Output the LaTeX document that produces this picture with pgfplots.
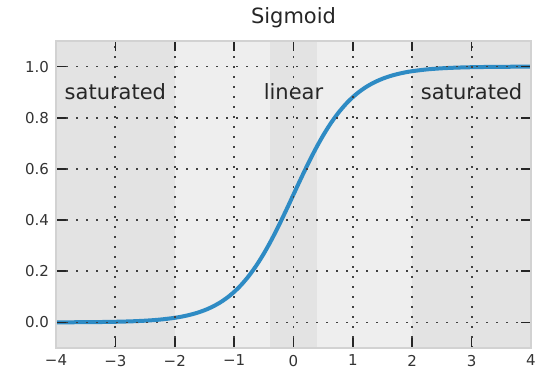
\documentclass[border=0pt]{standalone}
\usepackage{pgfplots}
\pgfplotsset{compat=1.18}
\usepackage{fontspec}
\setmainfont{DejaVu Sans}
\definecolor{satgray}{RGB}{227,227,227}
\definecolor{midgray}{RGB}{238,238,238}
\definecolor{curveblue}{RGB}{46,139,196}
\definecolor{framegray}{RGB}{210,210,210}
\begin{document}
\begin{tikzpicture}
\begin{axis}[
  scale only axis,
  width=237.5pt, height=153.5pt,
  xmin=-4, xmax=4, ymin=-0.1, ymax=1.1,
  xtick={-4,-3,-2,-1,0,1,2,3,4},
  xticklabels={−4,−3,−2,−1,0,1,2,3,4},
  ytick={0,0.2,0.4,0.6,0.8,1.0},
  yticklabels={0.0,0.2,0.4,0.6,0.8,1.0},
  tick label style={font=\fontsize{7.5}{9}\selectfont, text=black!80},
  title={Sigmoid},
  title style={font=\fontsize{10.5}{12}\selectfont, text=black!85, yshift=-3pt},
  axis background/.style={fill=midgray},
  axis line style={framegray, line width=0.8pt},
  axis on top,
  grid=major,
  grid style={black!75, line width=0.9pt, dash pattern=on 0.9pt off 4.1pt},
  tick align=inside,
  major tick length=5pt,
  tick style={black!85, line width=0.8pt},
  clip=true,
]
\addplot[fill=satgray, draw=none] coordinates {(-4,-0.1) (-2,-0.1) (-2,1.1) (-4,1.1)} -- cycle;
\addplot[fill=satgray, draw=none] coordinates {(2,-0.1) (4,-0.1) (4,1.1) (2,1.1)} -- cycle;
\addplot[fill=satgray, draw=none] coordinates {(-0.4,-0.1) (0.4,-0.1) (0.4,1.1) (-0.4,1.1)} -- cycle;
\addplot[curveblue, line width=2pt, smooth] coordinates {
(-4,0.000335) (-3.75,0.000553) (-3.5,0.000911) (-3.25,0.001501) (-3,0.002473)
(-2.75,0.004070) (-2.5,0.006693) (-2.25,0.010987) (-2,0.017986) (-1.875,0.022977)
(-1.75,0.029312) (-1.625,0.037327) (-1.5,0.047426) (-1.375,0.060087) (-1.25,0.075858)
(-1.125,0.095349) (-1,0.119203) (-0.875,0.148047) (-0.75,0.182426) (-0.625,0.222700)
(-0.5,0.268941) (-0.375,0.320821) (-0.25,0.377541) (-0.125,0.437823) (0,0.5)
(0.125,0.562177) (0.25,0.622459) (0.375,0.679179) (0.5,0.731059) (0.625,0.777300)
(0.75,0.817574) (0.875,0.851953) (1,0.880797) (1.125,0.904651) (1.25,0.924142)
(1.375,0.939913) (1.5,0.952574) (1.625,0.962673) (1.75,0.970688) (1.875,0.977023)
(2,0.982014) (2.25,0.989013) (2.5,0.993307) (2.75,0.995930) (3,0.997527)
(3.25,0.998499) (3.5,0.999089) (3.75,0.999447) (4,0.999665)
};
\node[font=\fontsize{10.5}{12}\selectfont, text=black!85] at (axis cs:-3,0.9) {saturated};
\node[font=\fontsize{10.5}{12}\selectfont, text=black!85] at (axis cs:0,0.9) {linear};
\node[font=\fontsize{10.5}{12}\selectfont, text=black!85] at (axis cs:3,0.9) {saturated};
\end{axis}
\pgfresetboundingbox
\useasboundingbox ([xshift=-28pt,yshift=-13pt]current axis.south west) rectangle ([xshift=5.5pt,yshift=20.5pt]current axis.north east);
\end{tikzpicture}
\end{document}
